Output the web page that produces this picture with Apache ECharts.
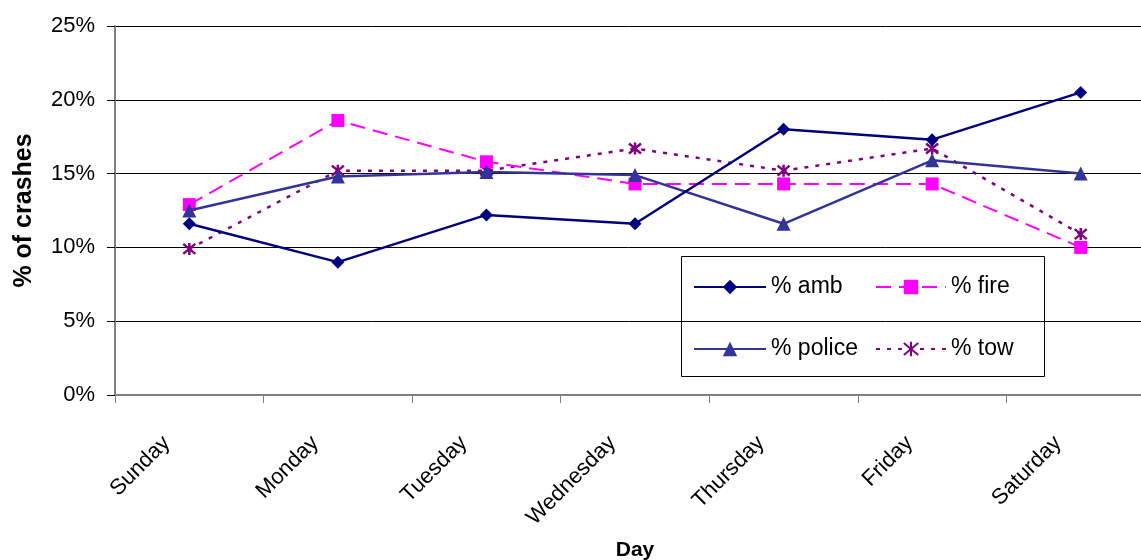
<!DOCTYPE html>
<html>
<head>
<meta charset="utf-8">
<script src="https://cdn.jsdelivr.net/npm/echarts@6/dist/echarts.min.js"></script>
<style>html,body{margin:0;padding:0;background:#fff}#c{width:1141px;height:560px}</style>
</head>
<body>
<div id="c"></div>
<script>
const days = ['Sunday','Monday','Tuesday','Wednesday','Thursday','Friday','Saturday'];
const amb = [11.6, 9.0, 12.2, 11.6, 18.0, 17.3, 20.5];
const fire = [12.9, 18.6, 15.8, 14.3, 14.3, 14.3, 10.0];
const police = [12.5, 14.8, 15.1, 14.9, 11.6, 15.9, 15.0];
const tow = [9.9, 15.2, 15.2, 16.7, 15.2, 16.7, 10.9];
const yTicks = [0, 5, 10, 15, 20, 25];

const FONT = 'Liberation Sans, Arial, sans-serif';
const chart = echarts.init(document.getElementById('c'), null, {renderer: 'canvas'});
const star = 'path://M0,0L10,10M10,0L0,10M5,-1L5,11';

chart.setOption({
  animation: false,
  backgroundColor: '#fff',
  grid: {left: 115, top: 26, width: 1040, height: 369, containLabel: false, outerBoundsMode: 'none'},
  xAxis: {
    type: 'category', data: days, boundaryGap: true,
    name: 'Day', nameLocation: 'middle', nameGap: 145,
    nameTextStyle: {fontFamily: FONT, fontSize: 21, fontWeight: 'bold', color: '#000'},
    axisLine: {lineStyle: {color: '#808080', width: 2}},
    axisTick: {show: true, length: 8, lineStyle: {color: '#808080'}, alignWithLabel: false},
    axisLabel: {rotate: 45, interval: 0, margin: 22, fontFamily: FONT, fontSize: 22, color: '#000', padding: [0, 32, 0, 0]},
    splitLine: {show: false}
  },
  yAxis: {
    type: 'value', min: 0, max: 25, interval: 5,
    name: '% of crashes', nameLocation: 'middle', nameGap: 78,
    nameTextStyle: {fontFamily: FONT, fontSize: 25, fontWeight: 'bold', color: '#000'},
    axisLine: {show: true, lineStyle: {color: '#808080', width: 2}},
    axisTick: {show: true, length: 8, lineStyle: {color: '#000'}},
    axisLabel: {margin: 20, fontFamily: FONT, fontSize: 22, color: '#000',
      formatter: v => yTicks.includes(v) ? v + '%' : ''},
    splitLine: {show: true, lineStyle: {color: '#000', width: 1}}
  },
  legend: [
    {orient: 'vertical', left: 688, top: 270, itemWidth: 72, itemHeight: 18, itemGap: 38,
     data: ['% amb', '% police'],
     textStyle: {fontFamily: FONT, fontSize: 23, color: '#000', lineHeight: 24}},
    {orient: 'vertical', left: 870, top: 270, itemWidth: 70, itemHeight: 18, itemGap: 38,
     data: ['% fire', '% tow'],
     textStyle: {fontFamily: FONT, fontSize: 23, color: '#000', lineHeight: 24}}
  ],
  graphic: [{
    type: 'rect', left: 681, top: 256, z: 0,
    shape: {width: 363, height: 120},
    style: {fill: '#fff', stroke: '#000', lineWidth: 1}
  }],
  series: [
    {name: '% amb', type: 'line', data: amb, symbol: 'diamond', symbolSize: 13,
     lineStyle: {color: '#000080', width: 2.5}, itemStyle: {color: '#000080'}, z: 5},
    {name: '% fire', type: 'line', data: fire, symbol: 'rect', symbolSize: 13,
     lineStyle: {color: '#FF00FF', width: 2, type: [15, 8]}, itemStyle: {color: '#FF00FF'}, z: 3},
    {name: '% police', type: 'line', data: police, symbol: 'triangle', symbolSize: 14,
     lineStyle: {color: '#333399', width: 2.5}, itemStyle: {color: '#333399'}, z: 4},
    {name: '% tow', type: 'line', data: tow, symbol: star, symbolSize: 12,
     lineStyle: {color: '#800080', width: 2.5, type: [4, 7]},
     itemStyle: {color: '#800080', borderColor: '#800080', borderWidth: 2.5}, z: 2}
  ]
});
</script>
</body>
</html>
